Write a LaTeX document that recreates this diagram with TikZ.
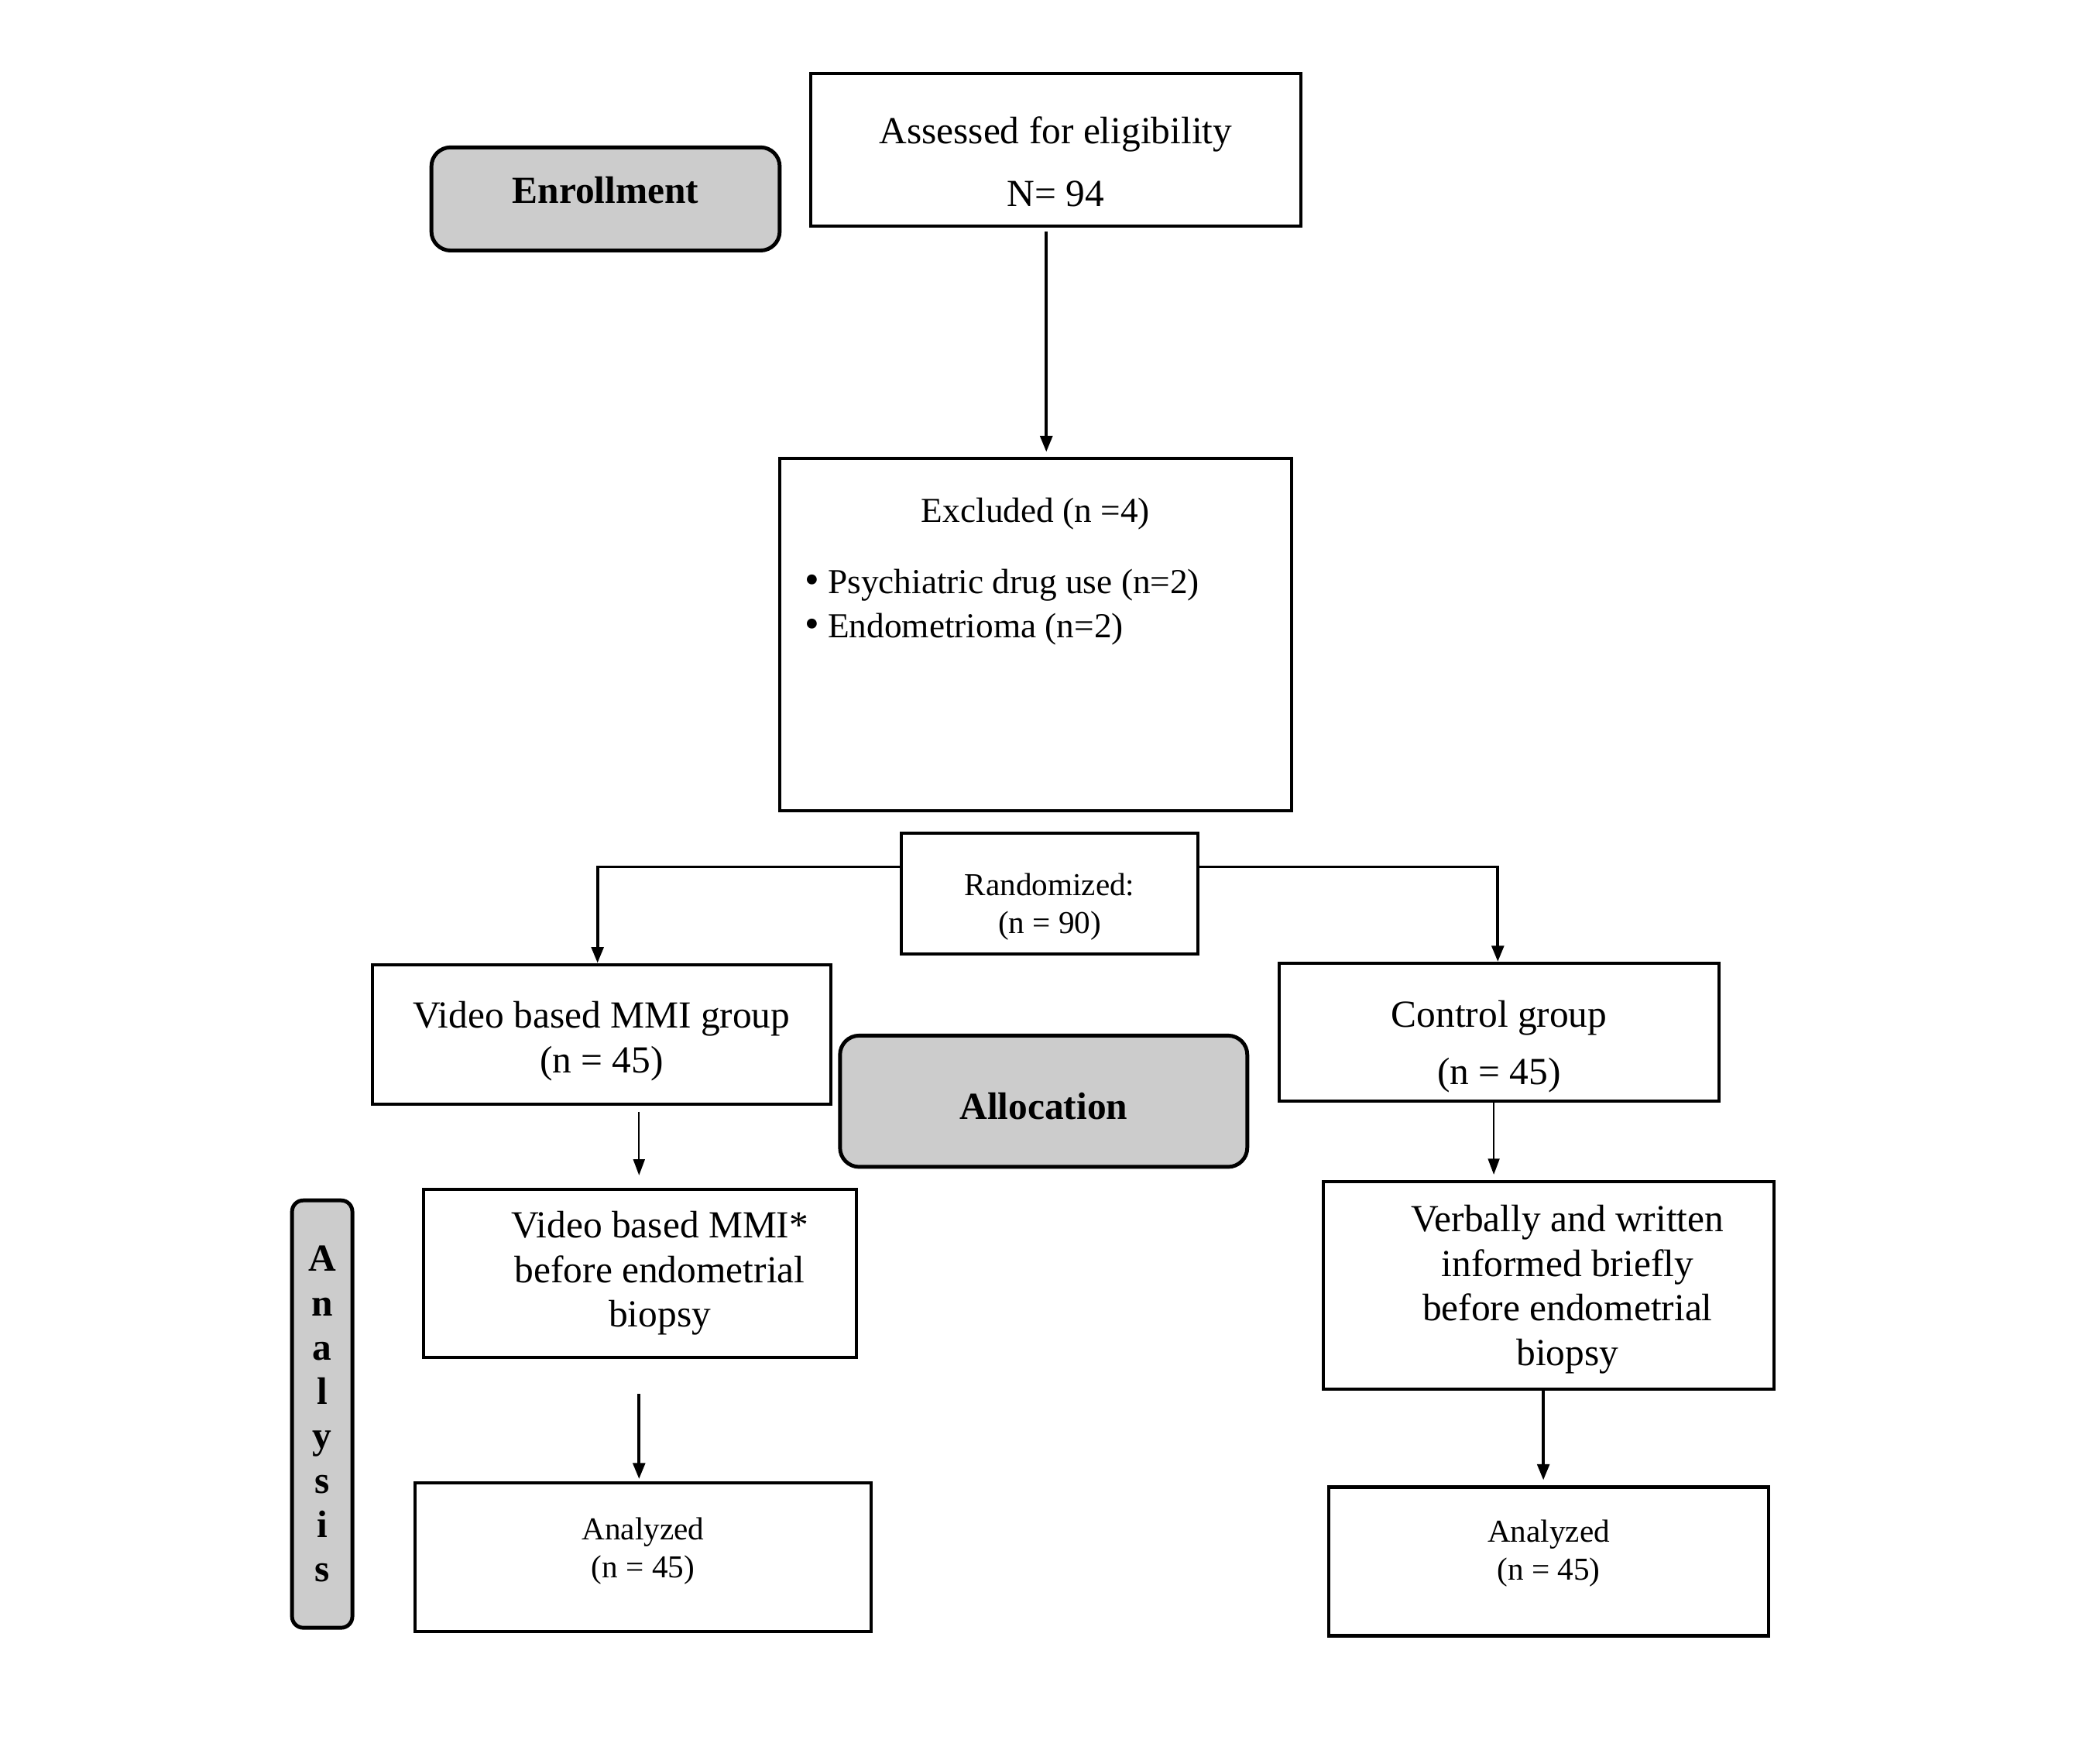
\documentclass[tikz,border=0pt]{standalone}
\usepackage{fontspec}
\setmainfont{Liberation Serif}
\usetikzlibrary{arrows.meta, calc, positioning}
\definecolor{boxgray}{gray}{0.8}
\def\pu{0.42pt}

\begin{document}
\begin{tikzpicture}[x=0.42pt, y=-0.42pt]%{{{
        \useasboundingbox (0, 0) rectangle (1567.5, 1306.25);

        \tikzstyle{bx} = [draw, line width=1pt, rectangle, inner sep=0pt, align=center, font=\fontsize{12}{14}\selectfont];
        \tikzstyle{gr} = [draw, line width=1.2pt, fill=boxgray, rounded corners=6pt, inner sep=0pt, font=\fontsize{12}{14}\bfseries];
        \tikzstyle{ar} = [line width=0.9pt, -{Triangle[length=5pt, width=3.8pt]}];
        \tikzstyle{arthin} = [line width=0.5pt, -{Triangle[length=5pt, width=3.6pt]}];

        % enrollment
        \node [gr, minimum width=260*\pu, minimum height=77*\pu, text depth=5.5pt] (enrol) at (452, 148.5) {Enrollment};
        \node [bx, minimum width=366*\pu, minimum height=114*\pu, text height=35.5pt] (assess) at (788, 112) {Assessed for eligibility\\[5.7pt] N= 94};

        \node [bx] (excl) at (773, 473.5) {%
            \begin{minipage}[c][110.4pt][t]{160.4pt}\fontsize{11}{13.9}\selectfont
                \vspace*{12.5pt}\centering Excluded (n =4)\par
                \vspace{8.4pt}\raggedright
                \hspace*{7.8pt}{\fontsize{13}{13.9}\selectfont\textbullet}\ Psychiatric drug use (n=2)\par
                \hspace*{7.8pt}{\fontsize{13}{13.9}\selectfont\textbullet}\ Endometrioma (n=2)\par
            \end{minipage}};

        % allocation
        \node [bx, minimum width=221*\pu, minimum height=90*\pu, text height=27pt, font=\fontsize{10}{11.8}\selectfont] (rand) at (783.5, 667) {Randomized:\\ (n = 90)};

        \node [bx, minimum width=342*\pu, minimum height=104*\pu, text height=26.8pt] (vgroup) at (449, 772) {Video based MMI group\\ (n = 45)};
        \node [gr, minimum width=304*\pu, minimum height=98*\pu, text height=11.6pt] (alloc) at (779, 822) {Allocation};
        \node [bx, minimum width=328*\pu, minimum height=103*\pu, text height=35.4pt] (cgroup) at (1119, 770.5) {Control group\\[4pt] (n = 45)};

        \node [bx, minimum width=323*\pu, minimum height=125*\pu] (vmmi) at (477.5, 950.5) {\hspace*{12.6pt}Video based MMI*\\ \hspace*{12.6pt}before endometrial\\ \hspace*{12.6pt}biopsy};
        \node [bx, minimum width=336*\pu, minimum height=155*\pu, text height=52.8pt] (verbal) at (1156, 959.5) {\hspace*{11.8pt}Verbally and written\\ \hspace*{11.8pt}informed briefly\\ \hspace*{11.8pt}before endometrial\\ \hspace*{11.8pt}biopsy};

        % analysis
        \node [gr, rounded corners=3.5pt, minimum width=45*\pu, minimum height=319*\pu, align=center, font=\fontsize{12}{13.9}\bfseries] (analys) at (240.5, 1055.5) {A\\n\\a\\l\\y\\s\\i\\s};

        \node [bx, minimum width=340*\pu, minimum height=111*\pu, text depth=6.2pt, font=\fontsize{10}{11.8}\selectfont] (lanal) at (480, 1162.5) {Analyzed\\ (n = 45)};
        \node [bx, minimum width=328*\pu, minimum height=111*\pu, text depth=7.2pt, font=\fontsize{10}{11.8}\selectfont] (ranal) at (1156, 1165.5) {Analyzed\\ (n = 45)};

        % connectors
        \coordinate (down) at (781, 0);
        \draw [ar, shorten <=1.2pt, shorten >=1.5pt] (assess.south -| down) -- (excl.north -| down);

        \coordinate (rl) at (446, 647);
        \coordinate (rr) at (1118, 647);
        \draw [ar] (rand.west |- rl) -- (rl) -- (vgroup.north -| rl);
        \draw [ar] (rand.east |- rr) -- (rr) -- (cgroup.north -| rr);

        \coordinate (l1) at (477, 0);
        \coordinate (r1) at (1115, 0);
        \coordinate (r2) at (1152, 0);
        \draw [arthin, shorten <=2pt, shorten >=4pt] (vgroup.south -| l1) -- (vmmi.north -| l1);
        \draw [ar, shorten <=11pt, shorten >=0.8pt] (vmmi.south -| l1) -- (lanal.north -| l1);
        \draw [arthin, shorten >=1.7pt] (cgroup.south -| r1) -- (verbal.north -| r1);
        \draw [ar, shorten >=1.7pt] (verbal.south -| r2) -- (ranal.north -| r2);
    \end{tikzpicture}
\end{document}
